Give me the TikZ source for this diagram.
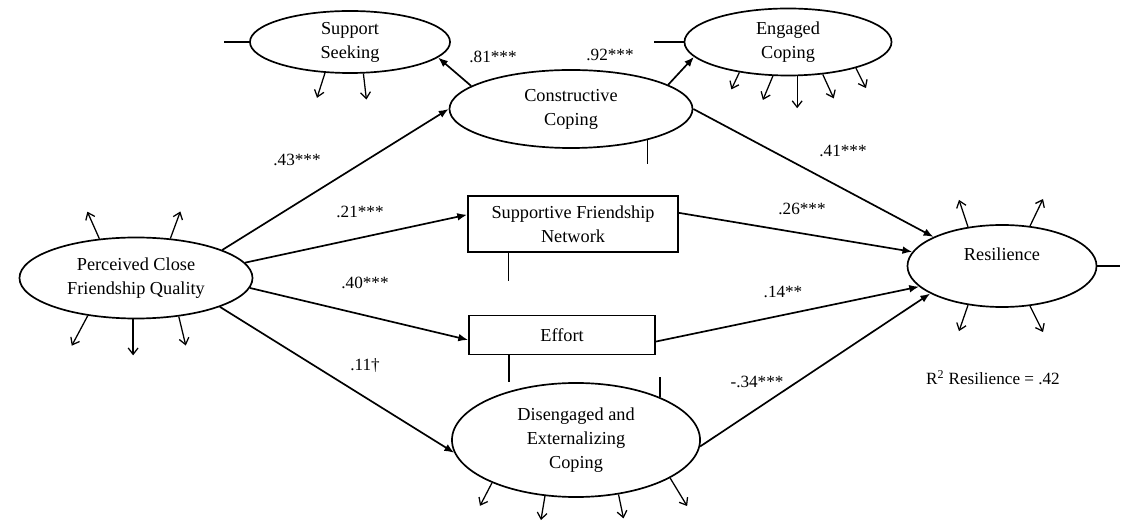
\documentclass[tikz,border=0pt]{standalone}
\usepackage{fontspec}
\setmainfont{Liberation Serif}
\usetikzlibrary{shapes.geometric}
\usetikzlibrary{arrows.meta}

\tikzset{
    latent/.style={ellipse,draw,line width=1.2pt,inner sep=0pt,align=center},
    observed/.style={rectangle,draw,line width=1.2pt,inner sep=0pt,align=center},
    path/.style={line width=1.2pt,-{Latex[length=7pt,width=5.5pt]}},
    err/.style={line width=0.9pt,-{Straight Barb[length=4.5pt,width=7pt]}},
    stub/.style={line width=0.9pt},
    coef/.style={inner sep=0pt,font=\fontsize{12.2}{15}\selectfont}
}

\begin{document}
\begin{tikzpicture}[x=0.025cm,y=-0.025cm,font=\fontsize{13}{17}\selectfont]
            \useasboundingbox (0,0) rectangle (1128,523);
            % latent and observed variables
            \node[latent,minimum width=5cm,minimum height=1.55cm] (ss) at (350,42) {Support\\Seeking};
            \node[latent,minimum width=6.075cm,minimum height=1.95cm] (cc) at (571,109) {Constructive\\Coping};
            \node[latent,minimum width=5.175cm,minimum height=1.675cm] (ec) at (788,42) {Engaged\\Coping};
            \node[latent,minimum width=5.825cm,minimum height=2.025cm] (pcq) at (136,278) {Perceived Close\\Friendship Quality};
            \node[latent,minimum width=6.2cm,minimum height=2.85cm] (dis) at (576,440) {Disengaged and\\Externalizing\\Coping};
            \node[latent,minimum width=4.725cm,minimum height=2.05cm] (res) at (1002,266) {Resilience\\\mbox{}};
            \node[observed,minimum width=5.25cm,minimum height=1.4cm] (sfn) at (573,224) {Supportive Friendship\\Network};
            \node[observed,minimum width=4.65cm,minimum height=0.975cm] (eff) at (562,335) {Effort};

            % structural paths
            \draw[path] (pcq.18) -- (cc.west);
            \draw[path] (pcq.8) -- (sfn.175);
            \draw[path] (pcq.355) -- (eff.183);
            \draw[path] (pcq.341) -- (dis.186);
            \draw[path] (cc.167) -- (ss.350);
            \draw[path] (cc.14) -- (ec.189);
            \draw[path] (cc.east) -- (res.157);
            \draw[path] (sfn.6) -- (res.171);
            \draw[path] (eff.356) -- (res.194);
            \draw[path] (dis.357) -- (res.201);

            % coefficients
            \node[coef] (b43) at (297,160) {.43***};
            \node[coef] (b21) at (360,212) {.21***};
            \node[coef] (b40) at (365,283) {.40***};
            \node[coef] (b11) at (365,366) {.11\textdagger};
            \node[coef] (b81) at (493,57) {.81***};
            \node[coef] (b92) at (610,55) {.92***};
            \node[coef] (b41) at (843,151) {.41***};
            \node[coef] (b26) at (802,209) {.26***};
            \node[coef] (b14) at (783,292) {.14**};
            \node[coef] (b34) at (757,382) {-.34***};
            \node[coef] (r2) at (993,378) {R\textsuperscript{2} Resilience = .42};

            % error terms
            \foreach \a/\dx/\dy in {231/-8/25, 293/3/26}
                \draw[err] (ss.\a) -- ++(\dx,\dy);
            \foreach \a/\dx/\dy in {212/-8/17, 246/-10/24, 285/0/32, 317/11/24, 339/10/20}
                \draw[err] (ec.\a) -- ++(\dx,\dy);
            \foreach \a/\dx/\dy in {133/-12/-27, 49/10/-27, 218/-16/30, 266/0/36, 318/7/29}
                \draw[err] (pcq.\a) -- ++(\dx,\dy);
            \foreach \a/\dx/\dy in {207/-12/23, 241/-4/24, 308/5/24, 338/17/28}
                \draw[err] (dis.\a) -- ++(\dx,\dy);
            \foreach \a/\dx/\dy in {131/-9/-27, 55/13/-27, 229/-9/26, 305/13/26}
                \draw[err] (res.\a) -- ++(\dx,\dy);
            %\draw[err] (res.90) -- ++(0,-20);
            \draw[stub] (ss.west) -- ++(-25,0);
            \draw[stub] (ec.west) -- ++(-30,0);
            \draw[stub] (res.east) -- ++(23,0);
            \draw[stub] (cc.338) -- ++(0,24);
            \draw[stub] (sfn.204) -- ++(0,28);
            \draw[stub] (eff.201) -- ++(0,27);
            \draw[stub] (dis.27) -- ++(0,-20);

        \end{tikzpicture}
\end{document}
